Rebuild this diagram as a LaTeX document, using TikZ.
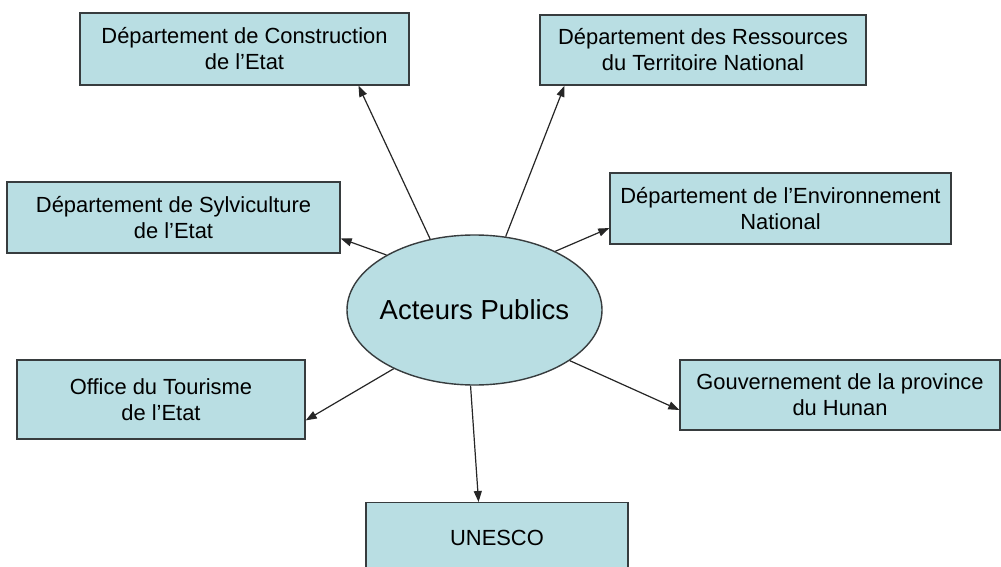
\documentclass[tikz,border=0pt]{standalone}
\usepackage{fontspec}
\setmainfont{Liberation Sans}
\usetikzlibrary{arrows.meta,calc,shapes.geometric}
\definecolor{boxfill}{RGB}{185,222,227}
\definecolor{boxline}{RGB}{55,60,62}
\tikzset{
  actorbox/.style={draw=boxline, line width=1.4pt, fill=boxfill, rectangle, inner sep=0pt, align=center,
    font=\fontsize{21.9}{26}\selectfont},
  hub/.style={draw=boxline, line width=1.4pt, fill=boxfill, ellipse, inner sep=0pt,
    minimum width=255pt, minimum height=150pt},
  hubtext/.style={font=\fontsize{27.5}{32}\selectfont, inner sep=0pt},
  link/.style={line width=1.2pt, draw=black!85, -{Triangle[length=11pt,width=8pt]}}
}
\begin{document}
\begin{tikzpicture}[x=1pt,y=-1pt]
\clip (0,0) rectangle (1001,567);
\fill[white] (0,0) rectangle (1001,567);
% boxes (centers, sizes in px)
\node[actorbox, minimum width=329pt, minimum height=72pt] (b1) at (244.5,49) {Département de Construction\\de l’Etat};
\node[actorbox, minimum width=326pt, minimum height=70pt] (b2) at (703,50) {Département des Ressources\\du Territoire National};
\node[actorbox, minimum width=333pt, minimum height=71pt] (b3) at (173.5,217.5) {Département de Sylviculture\\de l’Etat};
\node[actorbox, minimum width=341pt, minimum height=71pt] (b4) at (780.5,208.5) {Département de l’Environnement\\National};
\node[actorbox, minimum width=288pt, minimum height=79pt] (b6) at (161,399.5) {Office du Tourisme\\de l’Etat};
\node[actorbox, minimum width=320pt, minimum height=70pt] (b7) at (840,395) {Gouvernement de la province\\du Hunan};
\node[actorbox, minimum width=262pt, minimum height=72pt, anchor=north] (b8) at (497,502) {};
\node[font=\fontsize{21.9}{26}\selectfont] (t8) at (497,538) {UNESCO};
% hub
\node[hub] (ell) at (474.5,310) {};
\node[hubtext] (ht) at (ell.center) {Acteurs Publics};
% connectors
\draw[link] (ell.122) -- ($(b1.south west)!0.845!(b1.south east)$);
\draw[link] (ell.67) -- ($(b2.south west)!0.077!(b2.south east)$);
\draw[link] (ell.148) -- ($(b3.north east)!0.79!(b3.south east)$);
\draw[link] (ell.36) -- ($(b4.north west)!0.77!(b4.south west)$);
\draw[link] (ell.216) -- ($(b6.north east)!0.76!(b6.south east)$);
\draw[link] (ell.332) -- ($(b7.north west)!0.71!(b7.south west)$);
\draw[link] (ell.267) -- ($(b8.north west)!0.43!(b8.north east)$);
\end{tikzpicture}
\end{document}
